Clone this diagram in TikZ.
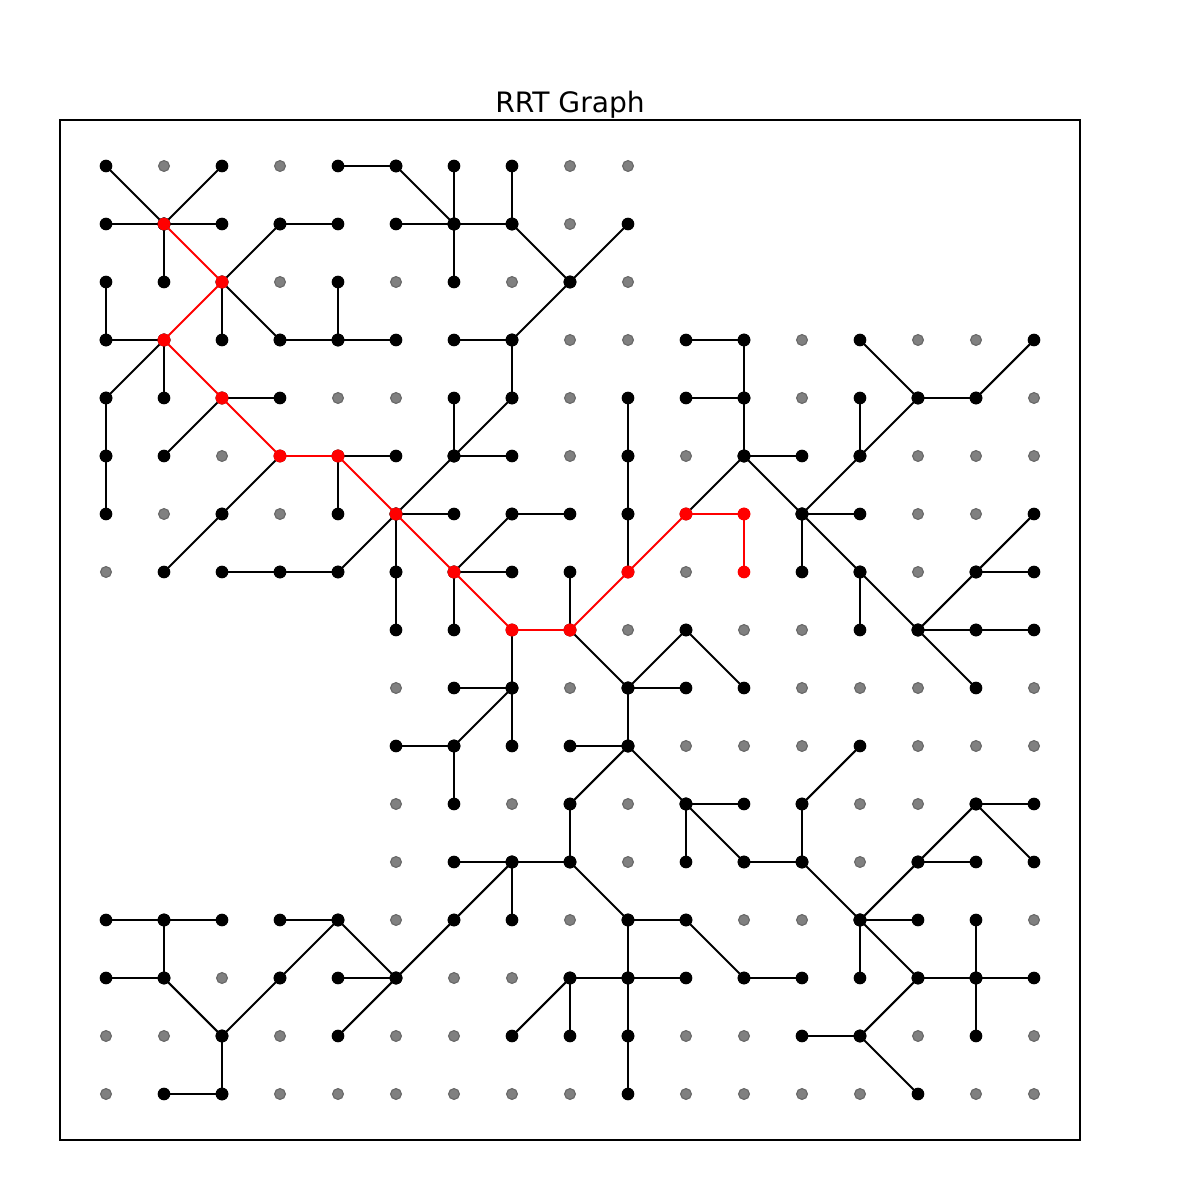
\documentclass[tikz,border=0pt]{standalone}
\usepackage{fontspec}
\setmainfont{DejaVu Sans}

% tree edges, as column-row pairs
\def\treeedges{0-0/1-1, 2-0/1-1, 0-1/1-1, 1-1/2-1, 1-1/1-2, 3-1/4-1, 2-2/3-1, 0-2/0-3,
  2-2/2-3, 2-2/3-3, 4-2/4-3, 0-3/1-3, 3-3/4-3, 4-3/5-3, 1-3/0-4, 1-3/1-4, 0-4/0-5,
  0-5/0-6, 2-4/3-4, 2-4/1-5, 4-5/5-5, 4-5/4-6, 3-5/2-6, 2-6/1-7,
  4-0/5-0, 5-0/6-1, 6-0/6-1, 7-0/7-1, 5-1/6-1, 6-1/7-1, 6-1/6-2, 7-1/8-2, 9-1/8-2,
  8-2/7-3, 6-3/7-3, 7-3/7-4, 7-4/6-5, 6-4/6-5, 6-5/7-5, 6-5/5-6,
  10-3/11-3, 11-3/11-4, 10-4/11-4, 11-4/11-5, 9-4/9-5, 9-5/9-6, 9-6/9-7, 11-5/10-6,
  11-5/12-5, 11-5/12-6, 13-3/14-4, 14-4/15-4, 15-4/16-3, 13-4/13-5, 14-4/13-5, 13-5/12-6,
  5-6/6-6, 5-6/4-7, 2-7/3-7, 3-7/4-7, 5-6/5-7, 5-7/5-8, 5-10/6-10,
  7-6/8-6, 7-6/6-7, 6-7/7-7, 6-7/6-8, 8-7/8-8, 7-8/7-9, 8-8/9-9, 9-9/10-8, 10-8/11-9,
  9-9/10-9, 9-9/9-10, 6-9/7-9, 7-9/6-10, 7-9/7-10, 6-10/6-11, 8-10/9-10, 9-10/8-11,
  9-10/10-11, 10-11/11-11,
  12-6/13-6, 12-6/12-7, 12-6/13-7, 13-7/13-8, 13-7/14-8, 14-8/15-7, 15-7/16-6, 15-7/16-7,
  14-8/15-8, 15-8/16-8, 14-8/15-9, 13-10/12-11, 15-11/16-11, 15-11/16-12, 14-12/15-11,
  0-13/1-13, 1-13/2-13, 1-13/1-14, 0-14/1-14, 1-14/2-15, 2-15/3-14, 3-14/4-13, 3-13/4-13,
  4-13/5-14, 4-14/5-14, 5-14/4-15, 5-14/6-13, 2-15/2-16, 1-16/2-16,
  8-11/8-12, 10-11/10-12, 10-11/11-12, 6-12/7-12, 7-12/8-12, 7-12/7-13, 7-12/6-13,
  8-12/9-13, 9-13/10-13, 9-13/9-14, 10-13/11-14, 8-14/9-14, 9-14/10-14, 8-14/7-15,
  8-14/8-15, 9-14/9-15, 9-15/9-16,
  12-11/12-12, 11-12/12-12, 12-12/13-13, 13-13/14-12, 14-12/15-12, 13-13/14-13,
  13-13/13-14, 13-13/14-14, 15-13/15-14, 15-14/15-15, 14-14/15-14, 15-14/16-14,
  14-14/13-15, 12-15/13-15, 13-15/14-16, 11-14/12-14}

% path from start to goal
\def\pathedges{1-1/2-2, 2-2/1-3, 1-3/2-4, 2-4/3-5, 3-5/4-5, 4-5/5-6, 5-6/6-7, 6-7/7-8,
  7-8/8-8, 8-8/9-7, 9-7/10-6, 10-6/11-6, 11-6/11-7}

\begin{document}
\begin{tikzpicture}[
    x=0.58cm, y=0.58cm,
    free/.style={circle, inner sep=0pt, minimum size=3.1pt, fill=black!50, draw=black!60, line width=0.3pt},
    visited/.style={circle, inner sep=0pt, minimum size=3.6pt, fill=black},
    onpath/.style={circle, inner sep=0pt, minimum size=3.6pt, fill=red},
    treeedge/.style={draw=black, line width=0.6pt},
    pathedge/.style={draw=red, line width=0.6pt}
  ]
    \useasboundingbox (-1.82759,2.86207) rectangle (18.86207,-17.82759);
    \node[font=\fontsize{8}{10}\selectfont, anchor=base] (title) at (8,0.931) {RRT Graph};
    \draw[line width=0.3pt] (-0.7931,0.7931) rectangle (16.7931,-16.7931);

    % free cells, without the two blocked blocks
    \foreach \rlo/\rhi/\clo/\chi in {0/2/0/9, 3/7/0/16, 8/12/5/16, 13/16/0/16} {
      \foreach \r in {\rlo,...,\rhi}
        \foreach \c in {\clo,...,\chi}
          \node[free] (n\c-\r) at (\c,-\r) {};
    }

    \foreach \a/\b in \treeedges
      \draw[treeedge] (n\a) -- (n\b);
    \foreach \a/\b in \treeedges {
      \node[visited] (t\a) at (n\a) {};
      \node[visited] (t\b) at (n\b) {};
    }

    \foreach \a/\b in \pathedges
      \draw[pathedge] (n\a) -- (n\b);
    \foreach \a/\b in \pathedges {
      \node[onpath] (p\a) at (n\a) {};
      \node[onpath] (p\b) at (n\b) {};
    }
  \end{tikzpicture}
\end{document}
